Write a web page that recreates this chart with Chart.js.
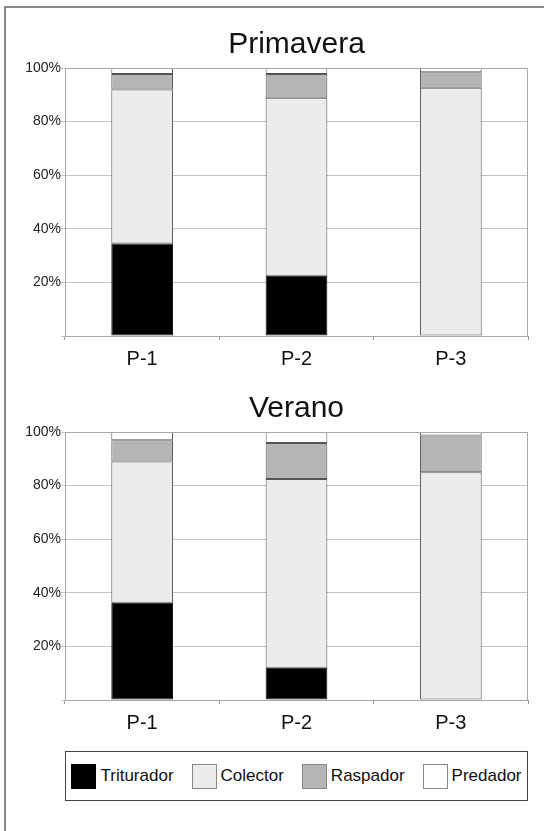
<!DOCTYPE html>
<html>
<head>
<meta charset="utf-8">
<script src="https://cdn.jsdelivr.net/npm/chart.js@4.4.0/dist/chart.umd.min.js"></script>
<style>
  body { margin: 0; background: #fff; width: 544px; height: 831px; overflow: hidden; position: relative;
         font-family: "Liberation Sans", Arial, Helvetica, sans-serif; }
  #frame { position: absolute; left: 4px; top: 6px; width: 620px; height: 900px;
           border-top: 2px solid #8a8a8a; border-left: 2px solid #8a8a8a; }
  .box { position: absolute; left: 0; width: 544px; height: 376px; }
  #box-primavera { top: 0; }
  #box-verano { top: 364px; }
  #legend { position: absolute; left: 65px; top: 751px; width: 463px; height: 50px; box-sizing: border-box;
            border: 1.5px solid #444; display: flex; align-items: center; justify-content: center;
            gap: 18px; font-size: 17px; color: #111; }
  #legend .item { display: flex; align-items: center; gap: 4px; white-space: nowrap; }
  #legend .sw { width: 25px; height: 25px; box-sizing: border-box; border: 1px solid #888; }
</style>
</head>
<body>
<div id="frame"></div>
<div class="box" id="box-primavera"><canvas id="chart-primavera"></canvas></div>
<div class="box" id="box-verano"><canvas id="chart-verano"></canvas></div>
<div id="legend"></div>
<script>
/* grupos funcionales por punto de muestreo (%) */

const puntos = ['P-1', 'P-2', 'P-3'];
const grupos = ['Triturador', 'Colector', 'Raspador', 'Predador'];
const yTicks = [20, 40, 60, 80, 100];

const primaveraTriturador = [34.5, 22.5, 0];
const primaveraColector   = [57.5, 66.4, 92.6];
const primaveraRaspador   = [5.8, 8.9, 5.8];
const primaveraPredador   = [2.2, 2.2, 1.6];

const veranoTriturador = [36.3, 12.0, 0];
const veranoColector   = [52.7, 70.5, 85.0];
const veranoRaspador   = [7.9, 13.4, 13.7];
const veranoPredador   = [3.1, 4.1, 1.3];

const colores = ['#000000', '#ececec', '#b5b5b5', '#ffffff'];
const bordes  = ['#111111', '#555555', '#555555', '#555555'];
const FONT = '"Liberation Sans", Arial, Helvetica, sans-serif';

// marco gris alrededor del area de trazado
const plotFrame = {
    id: 'plotFrame',
    afterDatasetsDraw(chart) {
        const a = chart.chartArea, ctx = chart.ctx;
        ctx.save();
        ctx.strokeStyle = '#a8a8a8';
        ctx.lineWidth = 1;
        ctx.strokeRect(a.left + 0.5, a.top + 0.5, a.right - a.left - 1, a.bottom - a.top);
        ctx.restore();
    }
};

function buildChart(id, titulo, series) {
    const datasets = series.map((vals, i) => ({
        label: grupos[i],
        data: vals,
        backgroundColor: colores[i],
        borderColor: bordes[i],
        borderWidth: 1,
        borderSkipped: false,
        barPercentage: 0.4,
        categoryPercentage: 1.0,
    }));

    return new Chart(document.getElementById(id).getContext('2d'), {
        type: 'bar',
        data: { labels: puntos, datasets: datasets },
        plugins: [plotFrame],
        options: {
            responsive: true,
            maintainAspectRatio: false,
            animation: false,
            layout: { padding: { left: 0, right: 16, top: 0, bottom: 0 } },
            scales: {
                x: {
                    stacked: true,
                    grid: { offset: true, drawOnChartArea: false, tickLength: 4, color: '#999' },
                    border: { color: '#999' },
                    ticks: { padding: 7, color: '#111', font: { family: FONT, size: 20 } },
                    afterFit: s => { s.height = 40; },
                },
                y: {
                    stacked: true,
                    min: 0,
                    max: 100,
                    afterBuildTicks: s => { s.ticks = [0].concat(yTicks).map(v => ({ value: v })); },
                    grid: { color: '#c4c4c4', tickLength: 4 },
                    border: { color: '#999' },
                    ticks: {
                        padding: 0,
                        color: '#222',
                        font: { family: FONT, size: 14 },
                        callback: v => v === 0 ? '' : v + '%',
                    },
                    afterFit: s => { s.width = 65; },
                },
            },
            plugins: {
                tooltip: { enabled: false },
                legend: { display: false },
                title: {
                    display: true,
                    text: titulo,
                    fullSize: false,
                    color: '#111',
                    font: { family: FONT, size: 30, weight: 'normal', lineHeight: 1.2 },
                    padding: { top: 27, bottom: 5 },
                },
            },
        },
    });
}

buildChart('chart-primavera', 'Primavera',
    [primaveraTriturador, primaveraColector, primaveraRaspador, primaveraPredador]);
const verano = buildChart('chart-verano', 'Verano',
    [veranoTriturador, veranoColector, veranoRaspador, veranoPredador]);

// leyenda comun, a partir de los datasets
const legendEl = document.getElementById('legend');
verano.data.datasets.forEach(ds => {
    const item = document.createElement('div');
    item.className = 'item';
    const sw = document.createElement('span');
    sw.className = 'sw';
    sw.style.background = ds.backgroundColor;
    sw.style.borderColor = ds.backgroundColor === '#000000' ? '#000' : '#888';
    const txt = document.createElement('span');
    txt.textContent = ds.label;
    item.appendChild(sw);
    item.appendChild(txt);
    legendEl.appendChild(item);
});
</script>
</body>
</html>
